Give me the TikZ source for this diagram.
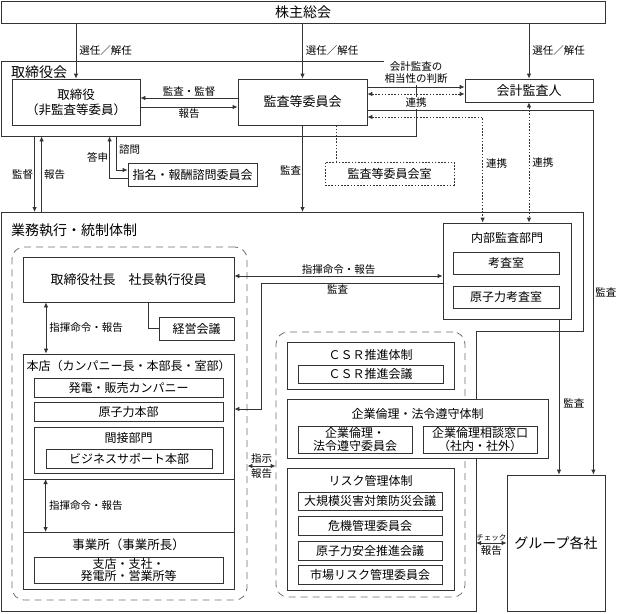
\documentclass[tikz,border=0pt]{standalone}
\usepackage{fontspec}
\setmainfont{Noto Sans CJK JP}
\usetikzlibrary{arrows.meta}

\definecolor{linegray}{HTML}{333333}
\definecolor{dashgray}{HTML}{6E6E6E}

\tikzset{
  box/.style={draw=linegray, line width=0.8pt, fill=white, inner sep=0pt,
    align=center, font=\fontsize{12}{13}\selectfont},
  frame/.style={draw=linegray, line width=0.8pt},
  grp/.style={draw=dashgray, line width=0.8pt, dash pattern=on 7pt off 5pt,
    rounded corners=12pt, inner sep=0pt},
  lbl/.style={inner sep=1pt, font=\fontsize{10.5}{12}\selectfont},
  ttl/.style={inner sep=0pt, font=\fontsize{12}{14}\selectfont},
  conn/.style={draw=linegray, line width=0.8pt},
  dot/.style={conn, dash pattern=on 1.6pt off 1.6pt},
  >={Latex[length=5pt,width=4.5pt]}
}

\begin{document}
\begin{tikzpicture}[x=1pt, y=-1pt]
  \useasboundingbox (0,0) rectangle (617,613);

  % frames
  \node[frame, inner sep=0pt, minimum width=415pt, minimum height=75pt] (torikai) at (208.5,98.5) {};
  \node[lbl, anchor=west, font=\fontsize{14}{16}\selectfont] (torikai-t) at (10,72) {取締役会};
  \coordinate (gy-nw) at (1,212);
  \coordinate (gy-se) at (476,611);
  \draw[frame] (gy-nw) -- (583,212) -- (583,331) -- (476,331) -- (gy-se) -- (1,611) -- cycle;
  \node[lbl, anchor=west, font=\fontsize{14}{16}\selectfont] (gyomu-t) at (10,230) {業務執行・統制体制};
  \node[grp, minimum width=235pt, minimum height=353pt] (grpL) at (129.5,423.5) {};
  \node[grp, minimum width=189pt, minimum height=265pt] (grpR) at (370.5,464.5) {};

  % top level
  \node[box, minimum width=604pt, minimum height=22pt, font=\fontsize{14}{16}\selectfont] (kabu) at (303,12) {株主総会};
  \node[box, minimum width=128pt, minimum height=46pt, font=\fontsize{12.5}{15}\selectfont] (tori) at (76,102) {取締役\\（非監査等委員）};
  \node[box, minimum width=129pt, minimum height=46pt, font=\fontsize{13}{15}\selectfont] (kansa) at (302.5,102) {監査等委員会};
  \node[box, minimum width=128pt, minimum height=23pt, font=\fontsize{13}{15}\selectfont] (kaikei) at (529,90.5) {会計監査人};
  \node[box, minimum width=129pt, minimum height=23pt] (shimei) at (192.5,174.5) {指名・報酬諮問委員会};
  \node[box, dot, minimum width=129pt, minimum height=23pt] (kansitsu) at (389.5,173.5) {監査等委員会室};

  % executive side
  \node[box, minimum width=211pt, minimum height=45pt, font=\fontsize{13}{15}\selectfont] (shacho) at (128.5,279.5) {取締役社長　社長執行役員};
  \node[box, minimum width=75pt, minimum height=23pt] (keiei) at (196.5,328.5) {経営会議};
  \node[box, minimum width=211pt, minimum height=235pt] (honten) at (128.5,471.5) {};
  \node[ttl] (honten-t) at (128.5,366) {本店（カンパニー長・本部長・室部）};
  \node[box, minimum width=189pt, minimum height=19pt] (hatsuden) at (128.5,387.5) {発電・販売カンパニー};
  \node[box, minimum width=189pt, minimum height=19pt] (genhon) at (128.5,411.5) {原子力本部};
  \node[box, minimum width=189pt, minimum height=46pt] (kansetsu) at (128.5,450) {};
  \node[ttl] (kansetsu-t) at (128.5,438) {間接部門};
  \node[box, minimum width=166pt, minimum height=19pt] (bizsup) at (129,458.5) {ビジネスサポート本部};
  \coordinate (div1) at (honten.west |- 0,479);
  \coordinate (div2) at (honten.west |- 0,532);
  \draw[conn] (div1) -- (div1 -| honten.east);
  \draw[conn] (div2) -- (div2 -| honten.east);
  \node[ttl, font=\fontsize{12.5}{14}\selectfont] (jigyo-t) at (128.5,545) {事業所（事業所長）};
  \node[box, minimum width=189pt, minimum height=26pt, font=\fontsize{12}{12.5}\selectfont] (shiten) at (128.5,570) {支店・支社・\\発電所・営業所等};

  % audit and control side
  \node[box, minimum width=128pt, minimum height=96pt] (naibu) at (507,271) {};
  \node[ttl] (naibu-t) at (507,238) {内部監査部門};
  \node[box, minimum width=106pt, minimum height=22pt] (kosa) at (506,263) {考査室};
  \node[box, minimum width=106pt, minimum height=22pt] (genkosa) at (506,297) {原子力考査室};

  \node[box, minimum width=167pt, minimum height=47pt] (csr) at (370.5,365.5) {};
  \node[ttl] (csr-t) at (370.5,355) {ＣＳＲ推進体制};
  \node[box, minimum width=145pt, minimum height=18pt] (csrkaigi) at (370.5,374) {ＣＳＲ推進会議};

  \node[box, minimum width=261pt, minimum height=59pt] (rinri) at (417.5,428.5) {};
  \node[ttl] (rinri-t) at (417.5,414) {企業倫理・法令遵守体制};
  \node[box, minimum width=114pt, minimum height=27pt] (rinri-iin) at (355,439.5) {企業倫理・\\法令遵守委員会};
  \node[box, minimum width=114pt, minimum height=27pt] (soudan) at (480,439.5) {企業倫理相談窓口\\（社内・社外）};

  \node[box, minimum width=167pt, minimum height=122pt] (risk) at (370.5,529) {};
  \node[ttl] (risk-t) at (370.5,481) {リスク管理体制};
  \node[box, minimum width=144pt, minimum height=18pt] (daikibo) at (370,501) {大規模災害対策防災会議};
  \node[box, minimum width=144pt, minimum height=19pt] (kiki) at (370,525.5) {危機管理委員会};
  \node[box, minimum width=144pt, minimum height=19pt] (genanzen) at (370,550.5) {原子力安全推進会議};
  \node[box, minimum width=144pt, minimum height=19pt] (shijo) at (370,574.5) {市場リスク管理委員会};

  \node[box, minimum width=98pt, minimum height=136pt, font=\fontsize{14}{16}\selectfont] (group) at (556,543) {グループ各社};

  % election by shareholders
  \foreach \t in {tori, kansa, kaikei}
    \draw[conn, ->] (kabu.south -| \t) -- node[lbl, anchor=west, xshift=2pt] {選任／解任} (\t.north);

  % board
  \draw[conn, ->] ([yshift=4pt]kansa.west) -- node[lbl, above] {監査・監督} ([yshift=4pt]tori.east);
  \draw[conn, ->] ([yshift=-5pt]tori.east) -- node[lbl, below] {報告} ([yshift=-5pt]kansa.west);
  \draw[conn, ->] ([yshift=15pt]kansa.east) -- ([yshift=15pt]kansa.east -| kaikei.west);
  \draw[dot, <->] ([yshift=8pt]kansa.east) -- ([yshift=8pt]kansa.east -| kaikei.west);
  \node[lbl, fill=white, align=center, font=\fontsize{10.5}{12}\selectfont] (soutou) at (416,73) {会計監査の\\相当性の判断};
  \node[lbl, fill=white] (renkei1) at (416,103) {連携};
  \draw[conn, ->] ([yshift=-8pt]kansa.east) -| node[lbl, anchor=west, xshift=0.5pt, pos=0.75] {監査} ([xshift=-12pt]group.north east);
  \draw[dot, <->] ([yshift=-15pt]kansa.east) -| node[lbl, anchor=west, xshift=2pt, pos=0.72] {連携} ([xshift=40pt]naibu.north west);
  \draw[dot, <->] (kaikei.south) -- node[lbl, anchor=west, xshift=2pt] {連携} (kaikei.south |- naibu.north);
  \draw[dot] ([xshift=33.5pt]kansa.south) -- ([xshift=33.5pt]kansa.south |- kansitsu.north);
  \draw[conn, ->] (kansa.south) -- node[lbl, anchor=east, pos=0.52] {監査} (kansa.south |- gy-nw);
  \draw[conn, ->] ([xshift=34pt]torikai.south west) -- node[lbl, anchor=east] {監督} ([xshift=34pt]torikai.south west |- gy-nw);
  \draw[conn, <-] ([xshift=41pt]torikai.south west) -- node[lbl, anchor=west, xshift=1pt] {報告} ([xshift=41pt]torikai.south west |- gy-nw);
  \draw[conn, ->] ([xshift=116pt]torikai.south west) |- node[lbl, anchor=west, xshift=1pt, pos=0.2] {諮問} ([yshift=4.5pt]shimei.west);
  \draw[conn, ->] ([yshift=-3.5pt]shimei.west) -| node[lbl, anchor=east, pos=0.75] {答申} ([xshift=109pt]torikai.south west);

  % execution
  \draw[conn, <->] ([yshift=3.5pt]shacho.east) -- node[lbl, above] {指揮命令・報告} ([yshift=3.5pt]shacho.east -| naibu.west);
  \draw[conn, ->] ([yshift=-12pt]naibu.west) -| node[lbl, below, pos=0.29] {監査} ([xshift=27pt, yshift=62.5pt]honten.east) -- ([yshift=62.5pt]honten.east);
  \draw[conn] ([xshift=19.5pt]shacho.south) |- (keiei.west);
  \draw[conn, <->] ([xshift=-82.5pt]shacho.south) -- node[lbl, anchor=west, xshift=2pt] {指揮命令・報告} ([xshift=-82.5pt]shacho.south |- honten.north);
  \draw[conn, <->] ([xshift=23pt]div1) -- node[lbl, anchor=west, xshift=2pt] {指揮命令・報告} ([xshift=23pt]div2);
  \draw[conn, <->] ([yshift=-42.5pt]grpL.east) -- node[lbl, above, yshift=1pt] {指示} node[lbl, below, yshift=-1pt] {報告} ([yshift=-42.5pt]grpL.east -| grpR.west);
  \draw[conn, ->] ([xshift=52pt]naibu.south) -- node[lbl, anchor=west, xshift=3pt, pos=0.54] {監査} ([xshift=52pt]naibu.south |- group.north);
  \draw[conn, <->] (group.west -| gy-se) -- node[lbl, above, yshift=1pt, font=\fontsize{7.5}{9}\selectfont] {チェック} node[lbl, below, yshift=-1pt] {報告} (group.west);
\end{tikzpicture}
\end{document}
